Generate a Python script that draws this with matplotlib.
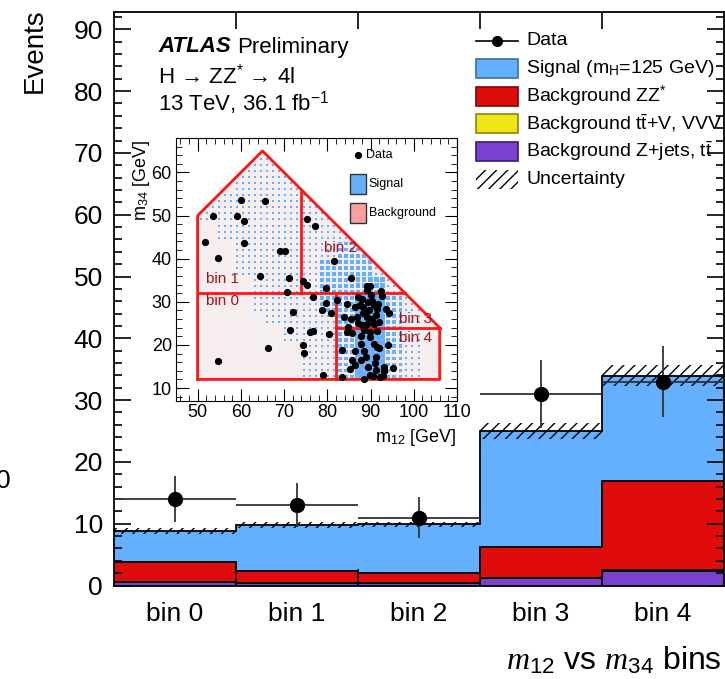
import numpy as np
import matplotlib.pyplot as plt
from matplotlib.patches import Rectangle, Polygon
from matplotlib.lines import Line2D
from matplotlib.collections import PatchCollection
from matplotlib.transforms import Affine2D

plt.rcParams['font.family'] = ['Liberation Sans', 'DejaVu Sans']
plt.rcParams['mathtext.fontset'] = 'custom'
plt.rcParams['mathtext.rm'] = 'Liberation Sans'
plt.rcParams['mathtext.it'] = 'Liberation Serif:italic'
plt.rcParams['hatch.linewidth'] = 1.0

# main histogram (events per bin)
BINS = ['bin 0', 'bin 1', 'bin 2', 'bin 3', 'bin 4']
DATA = [14, 13, 11, 31, 33]
ZJETS = [0.6, 0.4, 0.35, 1.2, 2.4]
TTV = [0.03, 0.03, 0.03, 0.05, 0.08]
ZZ = [3.1, 1.9, 1.7, 5.0, 14.5]
SIGNAL = [5.1, 7.4, 7.8, 18.75, 17.0]
UNC = [0.55, 0.5, 0.45, 1.25, 1.7]

# inset: selected region and bin boundaries (GeV)
REGION_M12 = [50, 50, 65, 106, 106]
REGION_M34 = [12, 50, 65, 24, 12]
M34_CUT_HIGH = 32
M34_CUT_LOW = 24
M12_CUT_1 = 74
M12_CUT_2 = 82
SUM_MAX = 130

# inset data events
DATA_M12 = [60.0, 65.6, 53.6, 59.0, 60.7, 51.7, 60.7, 54.8, 69.0, 70.2,
            75.2, 77.2, 81.6, 64.4, 71.2, 74.4, 75.2, 85.5, 79.6, 70.7,
            76.6, 82.3, 79.8, 78.7, 80.9, 72.1, 83.9, 85.4, 71.4, 75.9,
            76.6, 74.4, 74.6, 66.2, 54.7, 79.1, 83.3, 88.5, 83.3, 85.2,
            86.4, 87.8, 88.6, 89.8, 91.1, 92.2, 93.2, 95.3, 93.2, 90.5,
            91.5, 94.0, 89.9, 87.7, 85.6, 84.8, 89.1, 89.8, 89.2, 92.7,
            87.5, 88.7, 90.4, 91.5, 93.5, 94.2, 88.1, 89.2, 90.8, 91.9,
            88.5, 89.8, 86.9, 88.2, 89.2, 91.2, 90.8, 87.2, 86.4, 84.5,
            89.6, 90.4, 91.6, 87.7, 89.0, 91.2, 91.9, 86.5, 89.4, 91.2,
            92.8, 80.4, 84.5, 88.3, 89.5, 91.8, 88.1, 90.1, 85.8, 90.8,
            92.5, 87.2]
DATA_M34 = [53.6, 53.5, 49.8, 49.8, 48.8, 43.8, 43.7, 40.2, 41.8, 41.8,
            49.2, 47.5, 39.4, 36.0, 35.5, 34.8, 33.8, 35.5, 33.3, 32.3,
            31.2, 30.5, 29.7, 28.0, 27.5, 27.6, 26.5, 26.1, 23.4, 23.1,
            23.2, 19.9, 18.2, 19.3, 16.2, 13.1, 12.6, 12.1, 18.9, 14.4,
            18.7, 16.5, 18.7, 13.1, 15.7, 12.5, 14.9, 14.6, 13.9, 12.8,
            19.5, 19.9, 21.9, 22.1, 22.8, 24.2, 33.7, 33.6, 32.7, 31.3,
            29.3, 27.6, 30.3, 28.4, 28.3, 27.3, 24.6, 24.9, 24.8, 25.3,
            23.4, 23.0, 26.5, 27.4, 26.5, 26.9, 29.2, 31.1, 28.8, 29.6,
            28.0, 26.1, 23.2, 20.3, 17.2, 17.2, 19.2, 15.3, 14.8, 14.1,
            12.8, 22.5, 23.0, 28.8, 30.0, 29.4, 30.7, 31.5, 16.5, 20.3,
            32.6, 25.1]

# box sizes of the 2D templates, 4 GeV cells
# rows: m34 64-68 (top) ... 12-16 (bottom); columns: m12 50-54 ... 102-106
SIG_LEVELS = [
    "00000000000000",
    "00111000000000",
    "00111100000000",
    "01111110000000",
    "11111111000000",
    "01111111100000",
    "00111111221000",
    "00111112221000",
    "00011112233100",
    "00011112244210",
    "00001111244210",
    "00000111244210",
    "00000011244210",
    "00000011244210",
]
BKG_LEVELS = [
    "00000000000000",
    "00000000000000",
    "00000000000000",
    "00000000000000",
    "00000000000000",
    "00000000000000",
    "00000000000000",
    "00000000000000",
    "00000000000000",
    "00000000000000",
    "00000000000000",
    "00000000022000",
    "00000000122100",
    "00000000122100",
]

C_SIG = '#64b0ff'
C_ZZ = '#e00c0c'
C_TTV = '#f0e617'
C_ZJ = '#7a40d0'

fig = plt.figure(figsize=(7.25, 6.79), dpi=100)
pix = Affine2D().scale(1, -1).translate(0, 679)   # image pixel coords, y down

ax = fig.add_axes([114 / 725, 93.5 / 679, 610 / 725, 573.5 / 679])
edges = np.arange(len(BINS) + 1)
centers = edges[:-1] + 0.5

base = np.zeros(len(BINS))
tops = []
for vals, col in [(ZJETS, C_ZJ), (TTV, C_TTV), (ZZ, C_ZZ), (SIGNAL, C_SIG)]:
    top = base + np.array(vals)
    ax.stairs(top, edges, baseline=base, fill=True, color=col, zorder=1)
    tops.append(top)
    base = top
for top in tops:
    ax.stairs(top, edges, baseline=None, color='k', lw=1.3, zorder=2)
tot = tops[-1]
unc = np.array(UNC)
ax.stairs(tot + unc, edges, baseline=tot - unc, fill=True, facecolor='none',
          edgecolor='k', hatch='///', lw=0, zorder=3)

ax.errorbar(centers, DATA, xerr=0.5, yerr=np.sqrt(DATA), fmt='o', color='k',
            ecolor='#333333', ms=10, elinewidth=1.3, capsize=0, zorder=5)

ax.set_xlim(0, 5)
ax.set_ylim(0, 92.8)
ax.set_yticks(np.arange(0, 91, 10))
ax.set_yticks(np.arange(0, 93, 2), minor=True)
ax.set_xticks(edges[1:-1])
ax.set_xticklabels([])
ax.set_xticks(centers, BINS, minor=True)
ax.tick_params(axis='y', which='both', direction='in', left=True, right=True,
               labelsize=19, pad=8, width=1.2)
ax.tick_params(axis='y', which='major', length=12)
ax.tick_params(axis='y', which='minor', length=6)
ax.tick_params(axis='x', which='major', direction='in', top=True, bottom=True,
               length=12, width=1.2)
ax.tick_params(axis='x', which='minor', length=0, labelsize=19, pad=12)
for s in ax.spines.values():
    s.set_linewidth(1.3)

fig.text(35, 8, 'Events', transform=pix, rotation=90, ha='center', va='top',
         fontsize=20)
fig.text(722, 670, r'$m_{12}$ vs $m_{34}$ bins', transform=pix, ha='right',
         va='baseline', fontsize=23)
fig.text(-4, 481, '0', transform=pix, ha='left', va='center', fontsize=19)

fig.text(158, 47, 'ATLAS', transform=pix, fontsize=16, fontweight='bold',
         fontstyle='italic', va='center')
fig.text(237, 47, 'Preliminary', transform=pix, fontsize=16, va='center')
fig.text(158, 76, 'H \u2192 ZZ$^{*}$ \u2192 4l', transform=pix, fontsize=16, va='center')
fig.text(158, 103, '13 TeV, 36.1 fb$^{-1}$', transform=pix, fontsize=16, va='center')

# main legend
labels = ['Data', r'Signal (m$_{\mathrm{H}}$=125 GeV)', 'Background ZZ$^{*}$',
          r'Background t$\bar{\mathrm{t}}$+V, VVV',
          r'Background Z+jets, t$\bar{\mathrm{t}}$', 'Uncertainty']
fills = [None, (C_SIG, '#3a6fa8'), (C_ZZ, '#7a0505'), (C_TTV, '#8a8410'),
         (C_ZJ, '#3a1a70'), 'hatch']
for i, (lab, f) in enumerate(zip(labels, fills)):
    yc = 40.7 + 27.7 * i
    if f is None:
        fig.add_artist(Line2D([476, 518], [yc, yc], transform=pix, color='k', lw=1.2))
        fig.add_artist(Line2D([497], [yc], transform=pix, marker='o', color='k', ms=7))
    elif f == 'hatch':
        fig.add_artist(Rectangle((476, yc - 9.5), 42, 19, transform=pix,
                                 facecolor='none', edgecolor='k', lw=0, hatch='///'))
    else:
        fig.add_artist(Rectangle((476, yc - 9.5), 42, 19, transform=pix,
                                 facecolor=f[0], edgecolor=f[1], lw=1.2))
    fig.text(526, yc, lab, transform=pix, fontsize=14, va='center')

# inset
ai = fig.add_axes([176 / 725, (679 - 401) / 679, 281 / 725, 263 / 679])
ai.set_xlim(45, 110)
ai.set_ylim(7, 68)
region = Polygon(np.column_stack([REGION_M12, REGION_M34]), closed=True,
                 facecolor='#f6eeee', edgecolor='none', zorder=1)
ai.add_patch(region)

step = 1.4
sizes = {1: 0.33, 2: 0.6, 3: 0.8, 4: 1.0}
xs = np.arange(50 + step / 2, 106, step)
ys = np.arange(12 + step / 2, 68, step)
sig_boxes, bkg_boxes = [], []
for x in xs:
    for y in ys:
        c = int((x - 50) // 4)
        r = 13 - int((y - 12) // 4)
        for levels, boxes in [(SIG_LEVELS, sig_boxes), (BKG_LEVELS, bkg_boxes)]:
            lev = int(levels[r][c])
            if lev:
                w = sizes[lev] * step * (0.55 if boxes is bkg_boxes else 1.0)
                boxes.append(Rectangle((x - w / 2, y - w / 2), w, w))
pc = PatchCollection(sig_boxes, facecolor=C_SIG, edgecolor='none', zorder=2)
ai.add_collection(pc)
pc.set_clip_path(region)
pb = PatchCollection(bkg_boxes, facecolor='#f5a0a0', edgecolor='none', alpha=0.8, zorder=2.5)
ai.add_collection(pb)
pb.set_clip_path(region)

red = '#ff1515'
ai.plot(REGION_M12 + REGION_M12[:1], REGION_M34 + REGION_M34[:1], color=red, lw=2, zorder=3)
ai.plot([REGION_M12[0], SUM_MAX - M34_CUT_HIGH], [M34_CUT_HIGH, M34_CUT_HIGH], color=red, lw=2, zorder=3)
ai.plot([M12_CUT_1, M12_CUT_1], [M34_CUT_HIGH, SUM_MAX - M12_CUT_1], color=red, lw=2, zorder=3)
ai.plot([M12_CUT_2, M12_CUT_2], [REGION_M34[0], M34_CUT_HIGH], color=red, lw=2, zorder=3)
ai.plot([M12_CUT_2, REGION_M12[-1]], [M34_CUT_LOW, M34_CUT_LOW], color=red, lw=2, zorder=3)

ai.plot(DATA_M12, DATA_M34, 'o', color='k', ms=4.2, zorder=4)

binc = '#a5121a'
ai.text(52, 30.2, 'bin 0', color=binc, fontsize=11, va='center')
ai.text(52, 35.4, 'bin 1', color=binc, fontsize=11, va='center')
ai.text(79.2, 42.5, 'bin 2', color=binc, fontsize=11, va='center')
ai.text(96.5, 26.1, 'bin 3', color=binc, fontsize=11, va='center')
ai.text(96.5, 21.5, 'bin 4', color=binc, fontsize=11, va='center')

ai.set_xticks(np.arange(50, 111, 10))
ai.set_xticks(np.arange(46, 111, 2), minor=True)
ai.set_yticks(np.arange(10, 61, 10))
ai.set_yticks(np.arange(8, 68, 2), minor=True)
ai.tick_params(which='both', direction='in', top=True, right=True, labelsize=13)
ai.tick_params(which='major', length=9)
ai.tick_params(which='minor', length=4.5)
ai.tick_params(axis='x', pad=2)
ai.tick_params(axis='y', pad=3)

fig.text(141, 140, 'm$_{34}$ [GeV]', transform=pix, rotation=90, ha='center',
         va='top', fontsize=13)
fig.text(456, 437, 'm$_{12}$ [GeV]', transform=pix, ha='right', va='center',
         fontsize=13)

# inset legend
ai.plot([0.649], [0.934], 'o', color='k', ms=4.2, transform=ai.transAxes)
ai.text(0.677, 0.934, 'Data', transform=ai.transAxes, fontsize=9, va='center')
ai.add_patch(Rectangle((0.620, 0.787), 0.056, 0.076, transform=ai.transAxes,
                       facecolor=C_SIG, edgecolor='#333333', lw=1))
ai.text(0.686, 0.825, 'Signal', transform=ai.transAxes, fontsize=9, va='center')
ai.add_patch(Rectangle((0.620, 0.677), 0.056, 0.076, transform=ai.transAxes,
                       facecolor='#ff9e9e', edgecolor='#333333', lw=1))
ai.text(0.686, 0.715, 'Background', transform=ai.transAxes, fontsize=9, va='center')

fig.savefig('out.png', dpi=100)
